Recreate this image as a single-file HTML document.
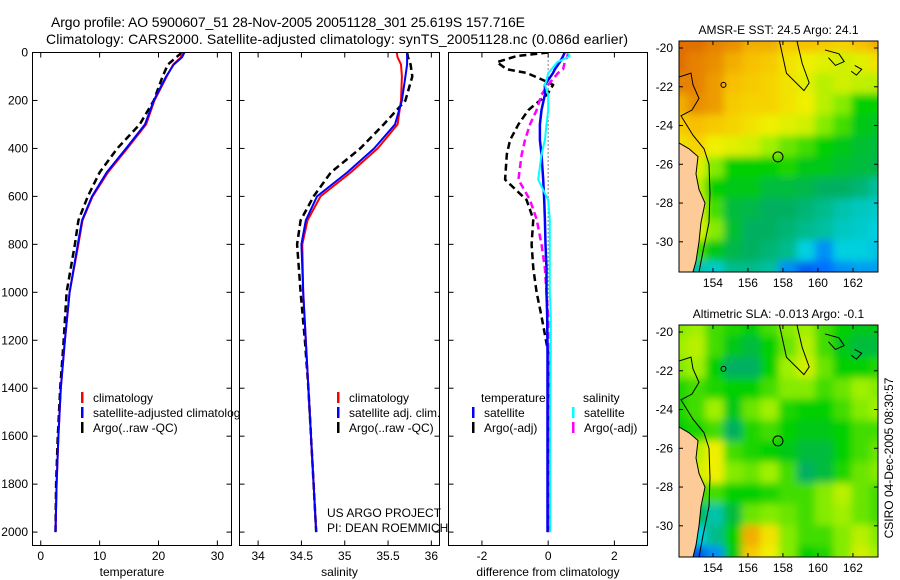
<!DOCTYPE html>
<html><head><meta charset="utf-8"><style>
html,body{margin:0;padding:0;background:#fff;}
svg{display:block;font-family:"Liberation Sans",Arial,sans-serif;}
</style></head><body>
<svg id="fig" width="900" height="580" viewBox="0 0 900 580"></svg>
<script>
// ---------- data ----------
const depths   = [0,20,50,100,200,300,400,500,600,700,800,1000,1200,1400,1600,1800,2000];
const tempClim = [24.1,23.8,22.5,21.4,19.3,17.9,14.7,11.4,8.8,7.1,6.4,4.9,4.1,3.4,3.0,2.7,2.5];
const tempSat  = [24.4,24.0,22.6,21.3,19.2,17.7,14.5,11.2,8.7,7.0,6.3,4.9,4.1,3.4,3.0,2.7,2.5];
const tempArgo = [24.0,23.0,21.6,20.7,19.2,16.8,13.0,10.0,8.0,6.4,5.8,4.4,3.9,3.3,2.9,2.6,2.5];
const salClim  = [35.60,35.61,35.65,35.66,35.65,35.61,35.38,35.07,34.72,34.57,34.51,34.52,34.55,34.58,34.61,34.64,34.67];
const salSat   = [35.72,35.72,35.72,35.70,35.66,35.58,35.34,35.03,34.68,34.55,34.50,34.52,34.55,34.58,34.61,34.64,34.67];
const salArgo  = [35.72,35.73,35.76,35.78,35.70,35.45,35.18,34.84,34.64,34.49,34.45,34.49,34.54,34.58,34.61,34.64,34.67];
const dDepths  = [0,15,40,70,85,115,135,175,240,300,365,425,530,615,695,800,900,1000,1100,1250,1500,2000];
const dTempArgo= [0,-0.95,-1.55,-1.25,-0.65,-0.15,0.15,-0.03,-0.6,-0.9,-1.15,-1.25,-1.3,-0.65,-0.45,-0.5,-0.45,-0.35,-0.2,0,0,0];
const dTempSat = [0.5,0.45,0.35,0.2,0.15,0.0,-0.1,-0.1,-0.2,-0.25,-0.25,-0.2,-0.15,-0.12,-0.1,-0.08,-0.05,-0.05,-0.03,-0.02,-0.02,-0.02];
const dSalArgo = [0.6,0.58,0.5,0.45,0.3,0.12,0.0,-0.2,-0.35,-0.55,-0.7,-0.8,-0.9,-0.55,-0.35,-0.2,-0.1,-0.05,0,0,0,0];
const dSalSat  = [0.6,0.65,0.28,0.1,0.0,-0.05,-0.1,0.0,0.0,-0.05,-0.1,-0.2,-0.3,0.0,0.05,0.05,0.05,0.05,0.08,0.08,0.06,0.06];
const depthTicks = [0,200,400,600,800,1000,1200,1400,1600,1800,2000];
const tempTicks  = [0,10,20,30];
const salTicks   = [34,34.5,35,35.5,36];
const salTickLabels = ["34","34.5","35","35.5","36"];
const diffTicks  = [-2,0,2];
const lonTicks = [154,156,158,160,162];
const latTicks = [-20,-22,-24,-26,-28,-30];
// map grids: rows from north (-20) to south, 12 cols west->east (0=blue .. 1=orange)
const sstGrid = [
[0.95,0.95,0.92,0.9,0.85,0.85,0.8,0.82,0.8,0.78,0.82,0.85],
[0.95,0.92,0.9,0.85,0.82,0.8,0.75,0.72,0.7,0.68,0.7,0.75],
[0.92,0.92,0.88,0.82,0.8,0.78,0.75,0.7,0.65,0.68,0.66,0.65],
[0.85,0.9,0.88,0.8,0.78,0.78,0.75,0.72,0.65,0.6,0.5,0.5],
[0.8,0.82,0.8,0.78,0.75,0.72,0.7,0.68,0.6,0.55,0.48,0.47],
[0.75,0.78,0.72,0.7,0.68,0.62,0.58,0.55,0.5,0.48,0.46,0.45],
[0.72,0.7,0.6,0.5,0.5,0.5,0.52,0.48,0.48,0.46,0.45,0.44],
[0.72,0.65,0.5,0.48,0.48,0.45,0.45,0.44,0.42,0.42,0.4,0.36],
[0.7,0.7,0.55,0.45,0.44,0.42,0.42,0.4,0.38,0.35,0.33,0.32],
[0.5,0.7,0.6,0.46,0.42,0.42,0.4,0.38,0.36,0.33,0.32,0.3],
[0.4,0.55,0.48,0.44,0.42,0.4,0.38,0.3,0.2,0.3,0.3,0.28],
[0.35,0.35,0.32,0.38,0.38,0.36,0.2,0.12,0.15,0.2,0.22,0.22]];
const slaGrid = [
[0.6,0.62,0.55,0.52,0.5,0.55,0.6,0.62,0.55,0.5,0.48,0.48],
[0.62,0.65,0.55,0.48,0.45,0.5,0.58,0.65,0.55,0.48,0.45,0.45],
[0.6,0.62,0.5,0.42,0.42,0.5,0.62,0.68,0.58,0.5,0.5,0.52],
[0.52,0.55,0.52,0.5,0.5,0.55,0.6,0.6,0.55,0.58,0.62,0.6],
[0.52,0.55,0.62,0.48,0.58,0.62,0.52,0.5,0.5,0.55,0.6,0.62],
[0.5,0.52,0.55,0.42,0.52,0.55,0.5,0.48,0.48,0.5,0.55,0.55],
[0.55,0.65,0.72,0.55,0.52,0.5,0.48,0.45,0.45,0.5,0.55,0.58],
[0.55,0.68,0.72,0.6,0.58,0.62,0.55,0.42,0.45,0.52,0.58,0.6],
[0.52,0.55,0.55,0.5,0.5,0.52,0.55,0.55,0.6,0.65,0.58,0.55],
[0.48,0.45,0.35,0.45,0.58,0.6,0.58,0.55,0.6,0.62,0.58,0.55],
[0.42,0.3,0.38,0.5,0.85,0.75,0.6,0.55,0.55,0.6,0.65,0.6],
[0.3,0.1,0.2,0.48,0.8,0.72,0.6,0.5,0.52,0.6,0.68,0.62]];
const floatLon = 157.716, floatLat = -25.619;

// ---------- helpers ----------
const NS="http://www.w3.org/2000/svg";
const svg=document.getElementById('fig');
function mk(tag,attrs,parent){const e=document.createElementNS(NS,tag);for(const k in attrs)e.setAttribute(k,attrs[k]);(parent||svg).appendChild(e);return e;}
function txt(s,x,y,size,anchor,parent){const t=mk('text',{x:x,y:y,'font-size':size,'text-anchor':anchor||'start',fill:'#000'},parent);t.textContent=s;return t;}

const TOP=52.5, BOT=545.5;
const yD = d => 52.5 + d*0.2398;
const panels=[
 {x0:32.5,x1:231.5,vmin:-1.4,vmax:32.4,name:'temperature-panel'},
 {x0:239.5,x1:439.5,vmin:33.785,vmax:36.094,name:'salinity-panel'},
 {x0:448.5,x1:647.5,vmin:-3.01,vmax:3.0,name:'difference-panel'}];
panels.forEach(p=>{p.sx=v=>p.x0+(v-p.vmin)/(p.vmax-p.vmin)*(p.x1-p.x0);});
const xT=panels[0].sx, xS=panels[1].sx, xDf=panels[2].sx;

// titles
let t=txt('Argo profile: AO 5900607_51 28-Nov-2005 20051128_301 25.619S 157.716E',51,27,14);
t.setAttribute('textLength','474');
t=txt('Climatology: CARS2000. Satellite-adjusted climatology: synTS_20051128.nc (0.086d earlier)',46,44,14);
t.setAttribute('textLength','582');

// clip paths
const defs=mk('defs',{});
panels.forEach((p,i)=>{const c=mk('clipPath',{id:'pc'+i},defs);mk('rect',{x:p.x0,y:TOP,width:p.x1-p.x0,height:BOT-TOP},c);});

function line(arrX,arrD,sx,color,w,dash,name,g){
  const pts=arrD.map((d,i)=>sx(arrX[i]).toFixed(1)+','+yD(d).toFixed(1)).join(' ');
  const e=mk('polyline',{points:pts,fill:'none',stroke:color,'stroke-width':w,'stroke-dasharray':dash||'none','stroke-linejoin':'round'},g);
  return e;
}

panels.forEach((p,i)=>{
  const g=mk('g',{});
  mk('rect',{x:p.x0,y:TOP,width:p.x1-p.x0,height:BOT-TOP,fill:'#fff',stroke:'none'},g);
  const dg=mk('g',{'clip-path':'url(#pc'+i+')'},g);
  if(i===0){
    line(tempArgo,depths,xT,'#000',2.5,'7,4','argo-temperature-line',dg);
    line(tempClim,depths,xT,'#f00',2,'','climatology-temperature-line',dg);
    line(tempSat,depths,xT,'#00f',2,'','satellite-temperature-line',dg);
  } else if(i===1){
    line(salArgo,depths,xS,'#000',2.5,'7,4','argo-salinity-line',dg);
    line(salClim,depths,xS,'#f00',2,'','climatology-salinity-line',dg);
    line(salSat,depths,xS,'#00f',2,'','satellite-salinity-line',dg);
  } else {
    const z=mk('line',{x1:xDf(0),x2:xDf(0),y1:TOP,y2:yD(2000),stroke:'#000','stroke-width':1,'stroke-dasharray':'1,3'},dg);
    
    line(dTempArgo,dDepths,xDf,'#000',2.5,'7,4','argo-temperature-diff-line',dg);
    line(dSalArgo,dDepths,xDf,'#f0f',2.5,'7,4','argo-salinity-diff-line',dg);
    line(dTempSat,dDepths,xDf,'#00f',2.5,'','satellite-temperature-diff-line',dg);
    line(dSalSat,dDepths,xDf,'#0ff',2,'','satellite-salinity-diff-line',dg);
  }
  mk('rect',{x:p.x0,y:TOP,width:p.x1-p.x0,height:BOT-TOP,fill:'none',stroke:'#000','stroke-width':1},g);
  depthTicks.forEach(d=>{const y=yD(d);
    mk('line',{x1:p.x0,x2:p.x0+5,y1:y,y2:y,stroke:'#000'},g);mk('line',{x1:p.x1-5,x2:p.x1,y1:y,y2:y,stroke:'#000'},g);
    if(i===0){const l=txt(String(d),28,y+4,12,'end',g);}
  });
  const ticks=i===0?tempTicks:(i===1?salTicks:diffTicks);
  const labels=i===0?tempTicks.map(String):(i===1?salTickLabels:diffTicks.map(String));
  ticks.forEach((v,k)=>{const x=p.sx(v);
    mk('line',{x1:x,x2:x,y1:TOP,y2:TOP+5,stroke:'#000'},g);mk('line',{x1:x,x2:x,y1:BOT-5,y2:BOT,stroke:'#000'},g);
    const l=txt(labels[k],x,560,12,'middle',g);
  });
  const xl=['temperature','salinity','difference from climatology'][i];
  const a=txt(xl,(p.x0+p.x1)/2,576,12,'middle',g);
});

// legends
function legend(mx,ty,label,color,name){
  const g=mk('g',{});
  if(color)mk('rect',{x:mx,y:ty-10,width:2.5,height:11,fill:color},g);
  txt(label,mx+(color?12:0),ty,12,'start',g);return g;
}
const lc=mk('clipPath',{id:'lc1'},defs);mk('rect',{x:0,y:0,width:239,height:580},lc);
const lg1=legend(81,402,'climatology','#f00','legend-entry-climatology');
const lg2=legend(81,417,'satellite-adjusted climatology','#00f','legend-entry-satellite-adjusted');lg2.setAttribute('clip-path','url(#lc1)');
legend(81,432,'Argo(..raw -QC)','#000','legend-entry-argo');
legend(337,402,'climatology','#f00','legend-entry-sal-climatology');
legend(337,417,'satellite adj. clim.','#00f','legend-entry-sal-satellite');
legend(337,432,'Argo(..raw -QC)','#000','legend-entry-sal-argo');
legend(481,402,'temperature',null,'legend-header-temperature');
legend(472,417,'satellite','#00f','legend-entry-temp-satellite');
legend(472,432,'Argo(-adj)','#000','legend-entry-temp-argo');
legend(583,402,'salinity',null,'legend-header-salinity');
legend(572,417,'satellite','#0ff','legend-entry-sal-satellite-diff');
legend(572,432,'Argo(-adj)','#f0f','legend-entry-sal-argo-diff');
t=txt('US ARGO PROJECT',327,517,12);
t=txt('PI: DEAN ROEMMICH',327,532,12);

// ---------- maps ----------
const cstops=[[0,[0,32,192]],[0.15,[0,112,255]],[0.3,[0,208,224]],[0.42,[0,176,96]],[0.5,[0,208,0]],[0.62,[160,240,0]],[0.72,[240,240,0]],[0.82,[248,192,0]],[0.95,[224,112,0]],[1,[192,80,0]]];
function cmap(v){for(let i=1;i<cstops.length;i++){if(v<=cstops[i][0]){const a=cstops[i-1],b=cstops[i],f=(v-a[0])/(b[0]-a[0]);return 'rgb('+a[1].map((c,k)=>Math.round(c+(b[1][k]-c)*f)).join(',')+')';}}return 'rgb(192,80,0)';}
const LON0=152.06,LON1=163.43,LAT0=-19.64,LAT1=-31.6;
function drawMap(top,bot,grid,title,name,idx){
  const x0=679,x1=878;
  const lx=lon=>x0+(lon-LON0)*17.5, ly=lat=>top+7+(-20-lat)*19.38;
  const g=mk('g',{});
  const c=mk('clipPath',{id:'mc'+idx},defs);mk('rect',{x:x0,y:top,width:x1-x0,height:bot-top},c);
  const f=mk('filter',{id:'bl'+idx,x:'-0.1',y:'-0.1',width:'1.2',height:'1.2'},defs);mk('feGaussianBlur',{stdDeviation:4},f);
  const cg=mk('g',{'clip-path':'url(#mc'+idx+')'},g);
  const bg=mk('g',{filter:'url(#bl'+idx+')'},cg);
  const nr=grid.length,nc=grid[0].length,cw=(x1-x0+20)/nc,ch=(bot-top+20)/nr;
  grid.forEach((row,r)=>row.forEach((v,k)=>{
    const cell=mk('rect',{x:x0-10+k*cw,y:top-10+r*ch,width:cw+0.5,height:ch+0.5,fill:cmap(v)},bg);
    
  }));
  // land
  const land=mk('path',{d:`M${x0},${ly(-24.9)} L${x0+10},${ly(-25.2)} L${x0+19},${ly(-25.6)} L${x0+17},${ly(-26.5)} L${x0+20},${ly(-27.3)} L${x0+26},${ly(-28)} L${x0+22},${ly(-29)} L${x0+20},${ly(-30)} L${x0+17},${ly(-31)} L${x0+14},${bot} L${x0},${bot} Z`,fill:'#fccb98',stroke:'#000','stroke-width':1},cg);
  
  // isobath contours
  mk('polyline',{points:`${x0},${ly(-21.5)} ${x0+12},${ly(-21.3)} ${x0+14},${ly(-21.9)} ${x0+20},${ly(-22.6)} ${x0+13},${ly(-23.2)} ${x0+2},${ly(-23.5)} ${x0+14},${ly(-24.5)} ${x0+25},${ly(-25.2)} ${x0+30},${ly(-26)} ${x0+31},${ly(-27.5)} ${x0+30},${ly(-29)} ${x0+24},${ly(-30.5)} ${x0+20},${bot}`,fill:'none',stroke:'#000','stroke-width':1},cg);
  mk('polyline',{points:`${lx(157.8)},${top} ${lx(158.2)},${ly(-21.3)} ${lx(159.2)},${ly(-22.2)} ${lx(159.5)},${ly(-21.8)} ${lx(159.1)},${ly(-20.8)} ${lx(158.8)},${top}`,fill:'none',stroke:'#000','stroke-width':1},cg);
  mk('polyline',{points:`${lx(160.4)},${ly(-20.1)} ${lx(161.2)},${ly(-20.3)} ${lx(161.5)},${ly(-20.7)} ${lx(161)},${ly(-20.9)} ${lx(160.6)},${ly(-20.5)}`,fill:'none',stroke:'#000','stroke-width':1},cg);
  mk('polyline',{points:`${lx(162.1)},${ly(-20.9)} ${lx(162.5)},${ly(-21.1)} ${lx(162.2)},${ly(-21.4)} ${lx(161.9)},${ly(-21.2)} Z`,fill:'none',stroke:'#000','stroke-width':1},cg);
  mk('circle',{cx:lx(154.6),cy:ly(-21.9),r:2.5,fill:'none',stroke:'#000'},cg);
  const fl=mk('circle',{cx:lx(floatLon),cy:ly(floatLat),r:5,fill:'none',stroke:'#000','stroke-width':1},cg);
  
  mk('rect',{x:x0,y:top,width:x1-x0,height:bot-top,fill:'none',stroke:'#000'},g);
  lonTicks.forEach(l=>{const x=lx(l);mk('line',{x1:x,x2:x,y1:top,y2:top+4,stroke:'#000'},g);mk('line',{x1:x,x2:x,y1:bot-4,y2:bot,stroke:'#000'},g);
    const tl=txt(String(l),x,bot+15,12,'middle',g);});
  latTicks.forEach(l=>{const y=ly(l);mk('line',{x1:x0,x2:x0+4,y1:y,y2:y,stroke:'#000'},g);mk('line',{x1:x1-4,x2:x1,y1:y,y2:y,stroke:'#000'},g);
    const tl=txt(String(l),x0-6,y+4,12,'end',g);});
  const tt=txt(title,(x0+x1)/2,top-7,12,'middle',g);
}
drawMap(41,272,sstGrid,'AMSR-E SST: 24.5 Argo: 24.1','sst-map',0);
drawMap(325,557,slaGrid,'Altimetric SLA: -0.013 Argo: -0.1','sla-map',1);
t=txt('CSIRO 04-Dec-2005 08:30:57',0,0,12,'middle');
t.setAttribute('transform','translate(893,458) rotate(-90)');

</script>
</body></html>
